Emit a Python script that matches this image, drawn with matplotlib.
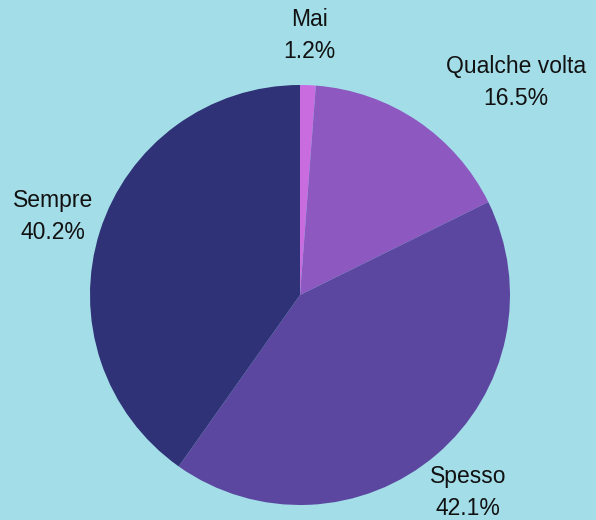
import matplotlib.pyplot as plt

# clockwise from 12 o'clock
labels = ["Mai", "Qualche volta", "Spesso", "Sempre"]
shares = [1.2, 16.5, 42.1, 40.2]
colors = ["#c86ce0", "#8d59c1", "#5c47a0", "#2f3276"]

BG = "#a3dee8"
R_PX = 210.0
CX, CY = 300.0, 295.0  # pie centre in pixels from top-left
W, H = 596, 520

plt.rcParams["font.family"] = ["Liberation Sans", "DejaVu Sans"]

fig = plt.figure(figsize=(W / 100, H / 100), dpi=100)
fig.patch.set_facecolor(BG)
ax = fig.add_axes([0, 0, 1, 1])
ax.set_facecolor(BG)

texts = [f"{lab}\n{v:.1f}%" for lab, v in zip(labels, shares)]
wedges, label_texts = ax.pie(
    shares, colors=colors, startangle=90, counterclock=False,
    labels=texts, labeldistance=1.235,
    textprops=dict(fontsize=16.5, color="#111111", ha="center", va="center", linespacing=1.5),
    wedgeprops=dict(linewidth=0),
)
# qualche volta label is pushed out to the upper right in the original
label_texts[1].set_position((1.03, 1.01))
for t in label_texts:
    t.set_horizontalalignment("center")

ax.set_xlim(-CX / R_PX, (W - CX) / R_PX)
ax.set_ylim(-(H - CY) / R_PX, CY / R_PX)
ax.set_aspect("auto")
ax.axis("off")

fig.savefig("out.png", dpi=100, facecolor=BG)
